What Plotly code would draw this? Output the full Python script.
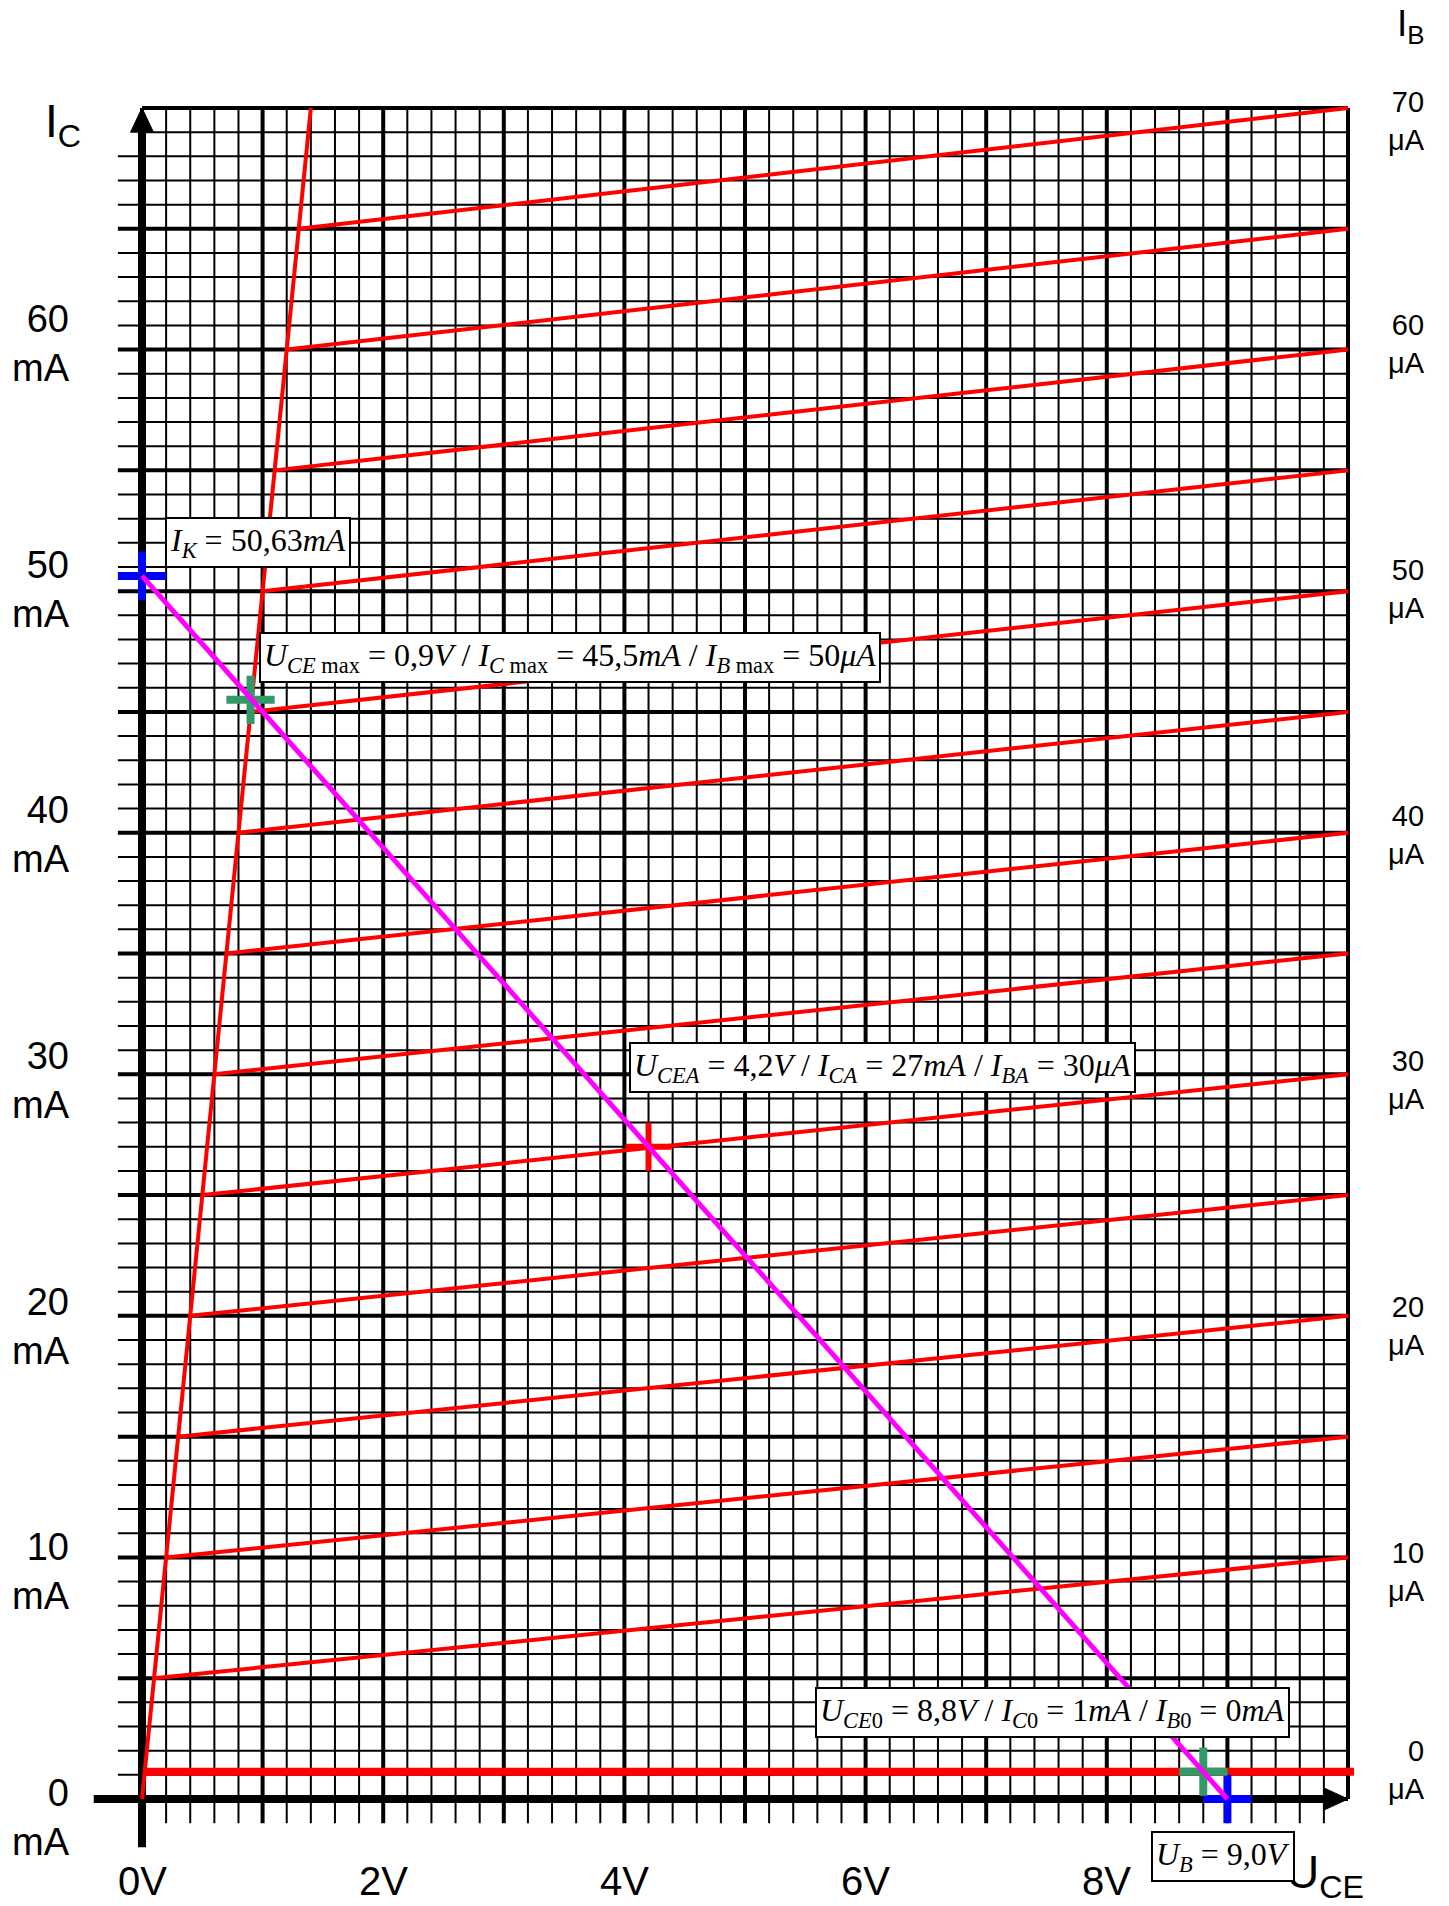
import plotly.graph_objects as go

# ---------------- data ----------------
# output characteristics I_C(U_CE) for base currents I_B
ib_values_uA = [10, 15, 20, 25, 30, 35, 40, 45, 50, 55, 60, 65, 70]
uce_knee_V = [0.1, 0.2, 0.3, 0.4, 0.5, 0.6, 0.7, 0.8, 0.9, 1.0, 1.1, 1.2, 1.3]
ic_knee_mA = [5, 10, 15, 20, 25, 30, 35, 40, 45, 50, 55, 60, 65]
uce_end_V = 10.0
ic_end_mA = [10, 15, 20, 25, 30, 35, 40, 45, 50, 55, 60, 65, 70]

# saturation boundary
sat_uce_V = [0.0, 1.4]
sat_ic_mA = [0.0, 70.0]

# I_B = 0 characteristic
ib0_uce_V = [0.02, 10.05]
ib0_ic_mA = [1.13, 1.13]

# load line
load_uce_V = [0.0, 9.0]
load_ic_mA = [50.63, 0.0]

# marked points
blue_uce_V = [0.0, 9.0]
blue_ic_mA = [50.63, 0.0]
green_uce_V = [0.9, 8.8]
green_ic_mA = [45.5, 1.13]
red_uce_V = [4.2]
red_ic_mA = [27.0]

# tick labels
ic_tick_vals = [0, 10, 20, 30, 40, 50, 60]
ic_tick_text = ["0<br>mA", "10<br>mA", "20<br>mA", "30<br>mA", "40<br>mA", "50<br>mA", "60<br>mA"]
ib_tick_vals = [0, 10, 20, 30, 40, 50, 60, 70]
ib_tick_text = ["0<br>μA", "10<br>μA", "20<br>μA", "30<br>μA", "40<br>μA", "50<br>μA", "60<br>μA", "70<br>μA"]
uce_tick_vals = [0, 2, 4, 6, 8]
uce_tick_text = ["0V", "2V", "4V", "6V", "8V"]

# ---------------- styling / layout constants ----------------
SANS = "Liberation Sans, Arial, sans-serif"
SERIF = "Liberation Serif, Times New Roman, serif"
X_RANGE = [-142 / 120.6, (1449 - 142) / 120.6]
Y_RANGE = [(1799 - 1906) / 24.157, 1799 / 24.157]
GRID_X_MAX = 10.0
GRID_Y_MAX = 70
GRID_X_EXT = -0.2   # horizontal lines extend left of the axis
GRID_Y_EXT = -1.0   # vertical lines extend below the axis


def label_y(v):
    # the scale labels are spread slightly wider than the grid
    return v - 0.75 + 0.0165 * v


# right-hand labels: the 0 µA label sits on the I_B = 0 line, 70 µA just under the top edge
ib_label_y = [1.22, label_y(10), label_y(20), label_y(30), label_y(40), label_y(50), label_y(60), 69.47]

fig = go.Figure()


def add_lines(xs, ys, color, width):
    fig.add_trace(go.Scatter(x=xs, y=ys, mode="lines", hoverinfo="skip",
                             line=dict(color=color, width=width), showlegend=False))


# ---- graph paper ----
thin_x, thin_y, thick_x, thick_y = [], [], [], []
for k in range(0, 51):
    u = k * 0.2
    y0 = GRID_Y_EXT if k < 50 else 0
    if k % 5 == 0:
        thick_x += [u, u, None]; thick_y += [y0, GRID_Y_MAX, None]
    else:
        thin_x += [u, u, None]; thin_y += [y0, GRID_Y_MAX, None]
for i in range(0, GRID_Y_MAX + 1):
    x0 = GRID_X_EXT if i < 69 else 0
    if i % 5 == 0:
        thick_x += [x0, GRID_X_MAX, None]; thick_y += [i, i, None]
    else:
        thin_x += [x0, GRID_X_MAX, None]; thin_y += [i, i, None]
add_lines(thin_x, thin_y, "#000000", 2)
add_lines(thick_x, thick_y, "#000000", 4)

# ---- axes with arrows ----
add_lines([-0.4, 9.8], [0, 0], "#000000", 8)
add_lines([0, 0], [-2.0, 69.0], "#000000", 8)
fig.add_trace(go.Scatter(x=[9.8, 10.0, 9.8, 9.8], y=[-0.46, 0, 0.46, -0.46], mode="lines",
                         fill="toself", fillcolor="#000000", line=dict(color="#000000", width=1),
                         hoverinfo="skip", showlegend=False))
fig.add_trace(go.Scatter(x=[-0.095, 0, 0.095, -0.095], y=[69.0, 70.0, 69.0, 69.0], mode="lines",
                         fill="toself", fillcolor="#000000", line=dict(color="#000000", width=1),
                         hoverinfo="skip", showlegend=False))

# ---- characteristics ----
cx, cy = list(sat_uce_V) + [None], list(sat_ic_mA) + [None]
for uk, ik, ie in zip(uce_knee_V, ic_knee_mA, ic_end_mA):
    cx += [uk, uce_end_V, None]
    cy += [ik, ie, None]
add_lines(cx, cy, "#FF0000", 4)
add_lines(ib0_uce_V, ib0_ic_mA, "#FF0000", 8)


def crosses(us, iss, du=0.2, di=1.0):
    xs, ys = [], []
    for u, i in zip(us, iss):
        xs += [u - du, u + du, None, u, u, None]
        ys += [i, i, None, i - di, i + di, None]
    return xs, ys


rx, ry = crosses(red_uce_V, red_ic_mA, 0.19, 1.0)
add_lines(rx, ry, "#FF0000", 6)
bx, by = crosses(blue_uce_V, blue_ic_mA)
add_lines(bx, by, "#0000FF", 8)
gx, gy = crosses(green_uce_V, green_ic_mA)
add_lines(gx, gy, "#339966", 8)

# ---- load line ----
add_lines(load_uce_V, load_ic_mA, "#FF00FF", 5)

# ---- labels ----
ann = []
for v, t in zip(ic_tick_vals, ic_tick_text):
    ann.append(dict(x=-0.58, y=label_y(v), text=t, xanchor="right", yanchor="middle", align="right",
                    showarrow=False, font=dict(family=SANS, size=38, color="#000")))
for yy, t in zip(ib_label_y, ib_tick_text):
    ann.append(dict(x=10.655, y=yy, text=t, xanchor="right", yanchor="middle", align="right",
                    showarrow=False, font=dict(family=SANS, size=29, color="#000")))
for v, t in zip(uce_tick_vals, uce_tick_text):
    ann.append(dict(x=v, y=-3.39, text=t, xanchor="center", yanchor="middle",
                    showarrow=False, font=dict(family=SANS, size=40, color="#000")))

ann.append(dict(x=-0.82, y=69.3, text="I<sub>C</sub>", xanchor="left", yanchor="middle",
                showarrow=False, font=dict(family=SANS, size=46, color="#000")))
ann.append(dict(x=10.655, y=73.4, text="I<sub>B</sub>", xanchor="right", yanchor="middle",
                showarrow=False, font=dict(family=SANS, size=37, color="#000")))
ann.append(dict(x=9.81, y=-3.18, text="U<sub>CE</sub>", xanchor="center", yanchor="middle",
                showarrow=False, font=dict(family=SANS, size=46, color="#000")))

boxes = [
    (0.96, 52.0, "<i>I</i><sub><i>K</i></sub> = 50,63<i>mA</i>"),
    (3.55, 47.25, "<i>U</i><sub><i>CE</i> max</sub> = 0,9<i>V</i> / <i>I</i><sub><i>C</i> max</sub>"
                  " = 45,5<i>mA</i> / <i>I</i><sub><i>B</i> max</sub> = 50<i>μA</i>"),
    (6.14, 30.28, "<i>U</i><sub><i>CEA</i></sub> = 4,2<i>V</i> / <i>I</i><sub><i>CA</i></sub>"
                  " = 27<i>mA</i> / <i>I</i><sub><i>BA</i></sub> = 30<i>μA</i>"),
    (7.55, 3.59, "<i>U</i><sub><i>CE</i>0</sub> = 8,8<i>V</i> / <i>I</i><sub><i>C</i>0</sub>"
                 " = 1<i>mA</i> / <i>I</i><sub><i>B</i>0</sub> = 0<i>mA</i>"),
    (8.96, -2.4, "<i>U</i><sub><i>B</i></sub> = 9,0<i>V</i>"),
]
for x, y, t in boxes:
    ann.append(dict(x=x, y=y, text=t, xanchor="center", yanchor="middle", showarrow=False,
                    bgcolor="#FFFFFF", bordercolor="#000000", borderwidth=2, borderpad=3,
                    font=dict(family=SERIF, size=32, color="#000")))

fig.update_layout(
    width=1449, height=1906,
    margin=dict(l=0, r=0, t=0, b=0),
    paper_bgcolor="#FFFFFF", plot_bgcolor="#FFFFFF",
    xaxis=dict(range=X_RANGE, visible=False, fixedrange=True),
    yaxis=dict(range=Y_RANGE, visible=False, fixedrange=True),
    annotations=ann,
    showlegend=False,
)

fig.write_html("out.html", config={"displayModeBar": False},
               post_script="document.body.style.margin='0';")
